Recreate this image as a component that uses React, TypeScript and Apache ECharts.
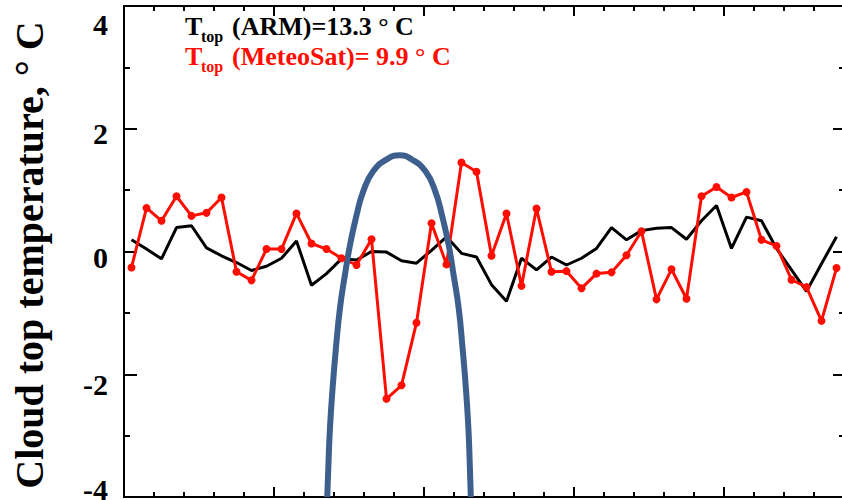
import React, { useEffect, useRef } from 'react';
import * as echarts from 'echarts';

// ---- data ----
const yTicks = [-4, -2, 0, 2, 4];
// sample positions (one per slot, centred in each slot)
const samplePos = Array.from({ length: 48 }, (_, i) => i + 0.5);
const armValues = [
  0.19, 0.04, -0.12, 0.39, 0.42, 0.06, -0.07, -0.18, -0.31, -0.24,
  -0.11, 0.17, -0.55, -0.36, -0.12, -0.14, 0.0, -0.01, -0.15, -0.19,
  0.02, 0.24, -0.03, -0.09, -0.54, -0.81, -0.11, -0.3, -0.09, -0.22,
  -0.11, 0.05, 0.39, 0.19, 0.34, 0.38, 0.39, 0.2, 0.5, 0.75,
  0.05, 0.56, 0.5, 0.05, -0.3, -0.65, -0.2, 0.24,
];
const meteoValues = [
  -0.26, 0.71, 0.5, 0.9, 0.58, 0.63, 0.88, -0.33, -0.47, 0.04,
  0.04, 0.62, 0.13, 0.04, -0.11, -0.22, 0.2, -2.4, -2.18, -1.16,
  0.46, -0.21, 1.45, 1.3, -0.07, 0.62, -0.56, 0.7, -0.33, -0.32,
  -0.6, -0.36, -0.34, -0.06, 0.33, -0.78, -0.29, -0.77, 0.9, 1.05,
  0.88, 0.97, 0.19, 0.09, -0.46, -0.58, -1.13, -0.27,
];
const curveX = [
  13.55, 13.62, 13.73, 13.91, 14.13, 14.4, 14.73, 15.07, 15.51, 15.95,
  16.62, 17.51, 18.37, 19.19, 20.09, 20.75, 21.19, 21.64, 21.97, 22.31,
  22.57, 22.79, 22.96, 23.06, 23.12,
];
const curveY = [
  -4.0, -3.53, -2.88, -2.22, -1.57, -0.92, -0.38, 0.11, 0.6, 0.98,
  1.31, 1.5, 1.57, 1.5, 1.31, 0.98, 0.6, 0.11, -0.38, -0.92,
  -1.57, -2.22, -2.88, -3.53, -4.0,
];
const armLabel = '(ARM)=13.3 ° C';
const meteoLabel = '(MeteoSat)= 9.9 ° C';
const yTitle = 'Cloud top temperature, ° C';

// ---- styles ----
const SERIF = 'Liberation Serif, Times New Roman, Times, serif';
const RED = '#ff0d00';
const BLUE = '#3d5f8d';
const labelShift: Record<string, number> = { '4': 18, '2': 5, '0': 6, '-2': 10, '-4': -8 };
const keyOf = (v: number) => 'k' + String(v).replace('-', 'm');

export default function App() {
  const ref = useRef<HTMLDivElement>(null);

  useEffect(() => {
    if (!ref.current) return;
    const chart = echarts.init(ref.current, undefined, { renderer: 'svg' });

    const rich: Record<string, any> = {};
    yTicks.forEach((t) => {
      const s = labelShift[String(t)] ?? 0;
      rich[keyOf(t)] = {
        fontFamily: SERIF,
        fontWeight: 'bold',
        fontSize: 30,
        color: '#000',
        padding: s >= 0 ? [2 * s, 0, 0, 0] : [0, 0, -2 * s, 0],
      };
    });

    const axisLineStyle = { color: '#000', width: 2 };
    const xBase = (position: 'top' | 'bottom', interval: number, len: number) => ({
      type: 'value',
      position,
      min: 0,
      max: 48,
      interval,
      axisLine: { show: true, onZero: false, lineStyle: axisLineStyle },
      axisTick: { show: true, inside: true, length: len, lineStyle: axisLineStyle },
      axisLabel: { show: false },
      splitLine: { show: false },
    });
    const yBase = (position: 'left' | 'right', len: number, minorLen: number, labels: boolean) => ({
      type: 'value',
      position,
      min: -4,
      max: 4,
      interval: 2,
      axisLine: { show: true, onZero: false, lineStyle: axisLineStyle },
      axisTick: { show: true, inside: true, length: len, lineStyle: axisLineStyle },
      minorTick: { show: true, splitNumber: 2, length: minorLen, lineStyle: axisLineStyle },
      splitLine: { show: false },
      axisLabel: labels
        ? {
            show: true,
            margin: 16,
            showMinLabel: true,
            showMaxLabel: true,
            formatter: (v: number) => `{${keyOf(v)}|${v}}`,
            rich,
            fontFamily: SERIF,
            fontWeight: 'bold',
            fontSize: 30,
            color: '#000',
          }
        : { show: false },
    });

    const txt = (x: number, y: number, text: string, size: number, fill: string) => ({
      type: 'text',
      x,
      y,
      style: { text, fontFamily: SERIF, fontWeight: 'bold', fontSize: size, fill, textVerticalAlign: 'middle' },
    });

    chart.setOption({
      animation: false,
      backgroundColor: '#fff',
      grid: { left: 124, right: -2, top: 6, bottom: 3, outerBoundsMode: 'none', containLabel: false },
      xAxis: [
        xBase('bottom', 10, 10),
        xBase('bottom', 2, 5),
        xBase('top', 10, 10),
        xBase('top', 2, 5),
      ],
      yAxis: [yBase('left', 13, 6, true), yBase('right', 11, 5, false)],
      series: [
        {
          type: 'line',
          name: 'ARM',
          data: samplePos.map((x, i) => [x, armValues[i]]),
          symbol: 'none',
          lineStyle: { color: '#000', width: 3 },
          itemStyle: { color: '#000' },
        },
        {
          type: 'line',
          name: 'MeteoSat',
          data: samplePos.map((x, i) => [x, meteoValues[i]]),
          symbol: 'circle',
          symbolSize: 8,
          lineStyle: { color: RED, width: 3 },
          itemStyle: { color: RED },
        },
        {
          type: 'line',
          name: 'curve',
          data: curveX.map((x, i) => [x, curveY[i]]),
          symbol: 'none',
          smooth: 0.5,
          lineStyle: { color: BLUE, width: 6 },
          itemStyle: { color: BLUE },
        },
      ],
      graphic: [
        {
          type: 'text',
          x: 29,
          y: 255,
          rotation: Math.PI / 2,
          style: {
            text: yTitle,
            fontFamily: SERIF,
            fontWeight: 'bold',
            fontSize: 40,
            fill: '#000',
            textAlign: 'center',
            textVerticalAlign: 'middle',
          },
        },
        txt(185, 26.2, 'T', 26, '#000'),
        txt(201, 36.3, 'top', 16, '#000'),
        txt(232, 26.2, armLabel, 26, '#000'),
        txt(185, 56.2, 'T', 26, RED),
        txt(201, 66.3, 'top', 16, RED),
        txt(232, 56.2, meteoLabel, 26, RED),
      ],
    });

    return () => chart.dispose();
  }, []);

  return (
    <div
      ref={ref}
      style={{ position: 'absolute', left: 0, top: 0, width: 842, height: 500, background: '#fff' }}
    />
  );
}
